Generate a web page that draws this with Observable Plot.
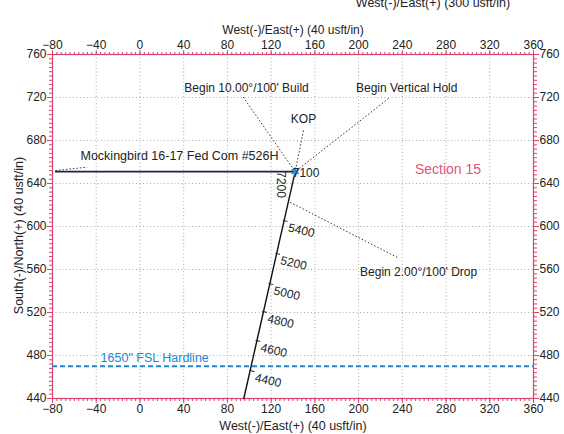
<!DOCTYPE html>
<html><head><meta charset="utf-8">
<script src="https://cdn.jsdelivr.net/npm/d3@7"></script>
<script src="https://cdn.jsdelivr.net/npm/@observablehq/plot@0.6"></script>
<style>
html,body{margin:0;padding:0;background:#fff;overflow:hidden}
#chart svg{display:block;overflow:hidden}
</style></head><body><div id="chart"></div>
<script>
// Axis ticks (usft)
const xTicks = [-80, -40, 0, 40, 80, 120, 160, 200, 240, 280, 320, 360];
const yTicks = [440, 480, 520, 560, 600, 640, 680, 720, 760];

// Well path: lateral (west) and vertical section up to KOP
const lateralE = [-77, 142];
const lateralN = [651, 651];
const verticalE = [95, 142];
const verticalN = [440, 651];
const kopE = [142];
const kopN = [651];

// Measured-depth markers along the vertical section
const mdValues = [4400, 4600, 4800, 5000, 5200, 5400];
const mdE = [100.8, 106.1, 112.2, 118.0, 124.2, 131.1];
const mdN = [466, 494, 521, 547, 575, 605.6];

// Depth labels at the KOP
const kopLabelText = ["7100", "7200"];
const kopLabelE = [152, 129.3];
const kopLabelN = [649.5, 639];
const kopLabelRotate = [0, 90];

// Hardline
const hardlineN = [470];
const hardlineText = ["1650\" FSL Hardline"];
const hardlineLabelE = [-36];
const hardlineLabelN = [478];

// Annotations
const noteText = ["Begin 10.00°/100' Build", "Begin Vertical Hold", "KOP", "Begin 2.00°/100' Drop"];
const noteE = [97.5, 244, 149.6, 254.9];
const noteN = [729, 729, 699.5, 557.5];
// leader lines: from (E1,N1) to (E2,N2)
const leadE1 = [94.5, 227.4, 149.6, 235.4, -77.3];
const leadN1 = [720.3, 719.1, 689.3, 571.2, 652];
const leadE2 = [142, 142, 142, 137.2, -48.3];
const leadN2 = [651, 651, 651, 622.6, 655.2];

const wellName = ["Mockingbird 16-17 Fed Com #526H"];
const wellNameE = [-54.4];
const wellNameN = [666];
const sectionText = ["Section 15"];
const sectionE = [281.8];
const sectionN = [652.7];

const minorX = d3.range(-80, 361, 4);
const minorY = d3.range(440, 761, 4);

const axisRed = "#d9446b";
const font = "Liberation Sans, Arial, sans-serif";
const idx = a => a.map((_, i) => i);
const spike = {draw(ctx, l) { ctx.moveTo(0, 0); ctx.lineTo(0, -l); }};

const chart = Plot.plot({
  width: 564,
  height: 434,
  marginLeft: 52,
  marginRight: 31,
  marginTop: 54,
  marginBottom: 36,
  style: {fontFamily: font, fontSize: "12px", color: "#222", background: "#fff"},
  x: {domain: [-80, 360], label: null},
  y: {domain: [440, 760], label: null},
  marks: [
    Plot.gridX(xTicks, {stroke: "#888", strokeOpacity: 0.7, strokeDasharray: "1,2.5"}),
    Plot.gridY(yTicks, {stroke: "#888", strokeOpacity: 0.7, strokeDasharray: "1,2.5"}),
    // minor ticks
    Plot.axisX(minorX, {anchor: "top", tickSize: 3, tickFormat: () => "", stroke: axisRed, label: null}),
    Plot.axisX(minorX, {anchor: "bottom", tickSize: 3, tickFormat: () => "", stroke: axisRed, label: null}),
    Plot.axisY(minorY, {anchor: "left", tickSize: 3, tickFormat: () => "", stroke: axisRed, label: null}),
    Plot.axisY(minorY, {anchor: "right", tickSize: 3, tickFormat: () => "", stroke: axisRed, label: null}),
    // major ticks
    Plot.axisX(xTicks, {anchor: "top", tickSize: 5, tickPadding: 1, stroke: axisRed, fill: "#222", fontSize: 12, label: null}),
    Plot.axisX(xTicks, {anchor: "bottom", tickSize: 5, tickPadding: 1, stroke: axisRed, fill: "#222", fontSize: 12, label: null}),
    Plot.axisY(yTicks, {anchor: "left", tickSize: 5, tickPadding: 1, stroke: axisRed, fill: "#222", fontSize: 12, label: null}),
    Plot.axisY(yTicks, {anchor: "right", tickSize: 5, tickPadding: 1, stroke: axisRed, fill: "#222", fontSize: 12, label: null}),
    Plot.frame({stroke: axisRed, strokeWidth: 1.2}),
    // hardline
    Plot.ruleY(hardlineN, {stroke: "#1f86d2", strokeWidth: 2, strokeDasharray: "5,3"}),
    Plot.text(idx(hardlineText), {x: i => hardlineLabelE[i], y: i => hardlineLabelN[i], text: i => hardlineText[i], textAnchor: "start", fill: "#1f86d2", fontSize: 12.5}),
    // leader lines
    Plot.link(idx(leadE1), {x1: i => leadE1[i], y1: i => leadN1[i], x2: i => leadE2[i], y2: i => leadN2[i], stroke: "#333", strokeWidth: 1, strokeDasharray: "1.5,2"}),
    // well path
    Plot.line(idx(lateralE), {x: i => lateralE[i], y: i => lateralN[i], stroke: "#1c2447", strokeWidth: 1.8}),
    Plot.line(idx(verticalE), {x: i => verticalE[i], y: i => verticalN[i], stroke: "#111", strokeWidth: 1.4}),
    Plot.vector(idx(mdValues), {x: i => mdE[i], y: i => mdN[i], length: 4, rotate: 103, anchor: "start", shape: spike, stroke: "#222", strokeWidth: 1}),
    Plot.text(idx(mdValues), {x: i => mdE[i], y: i => mdN[i], text: i => String(mdValues[i]), textAnchor: "start", dx: 5, dy: 7, rotate: 13, fontSize: 12, fill: "#222"}),
    Plot.dot(idx(kopE), {x: i => kopE[i], y: i => kopN[i], symbol: "asterisk", r: 4, stroke: "#2a8fd6", strokeWidth: 1.8}),
    Plot.text(idx(kopLabelText), {x: i => kopLabelE[i], y: i => kopLabelN[i], text: i => kopLabelText[i], rotate: i => kopLabelRotate[i], textAnchor: i => kopLabelRotate[i] ? "middle" : "start", fontSize: 12, fill: "#222"}),
    // annotations
    Plot.text(idx(noteText), {x: i => noteE[i], y: i => noteN[i], text: i => noteText[i], fontSize: 12, fill: "#222"}),
    Plot.text(idx(wellName), {x: i => wellNameE[i], y: i => wellNameN[i], text: i => wellName[i], textAnchor: "start", fontSize: 12.5, fill: "#222"}),
    Plot.text(idx(sectionText), {x: i => sectionE[i], y: i => sectionN[i], text: i => sectionText[i], fontSize: 14, fill: "#e0557a"}),
    // axis titles
    Plot.text(["West(-)/East(+) (40 usft/in)"], {frameAnchor: "top", lineAnchor: "middle", dy: -24, fontSize: 12, fill: "#222"}),
    Plot.text(["West(-)/East(+) (40 usft/in)"], {frameAnchor: "bottom", lineAnchor: "middle", dy: 27, fontSize: 12.5, fill: "#222"}),
    Plot.text(["South(-)/North(+) (40 usft/in)"], {frameAnchor: "left", textAnchor: "middle", lineAnchor: "middle", dx: -34, dy: 9, rotate: -90, fontSize: 12.5, fill: "#222"}),
    Plot.text(["West(-)/East(+) (300 usft/in)"], {frameAnchor: "top", lineAnchor: "middle", dx: 140, dy: -52, fontSize: 12.5, fill: "#222"}),
    Plot.text(["South(-)/North(+) (300 usft/in)"], {frameAnchor: "right", textAnchor: "middle", lineAnchor: "middle", dx: 36, dy: 32, rotate: -90, fontSize: 12.5, fill: "#222"})
  ]
});
document.getElementById("chart").appendChild(chart);
</script>
</body></html>
